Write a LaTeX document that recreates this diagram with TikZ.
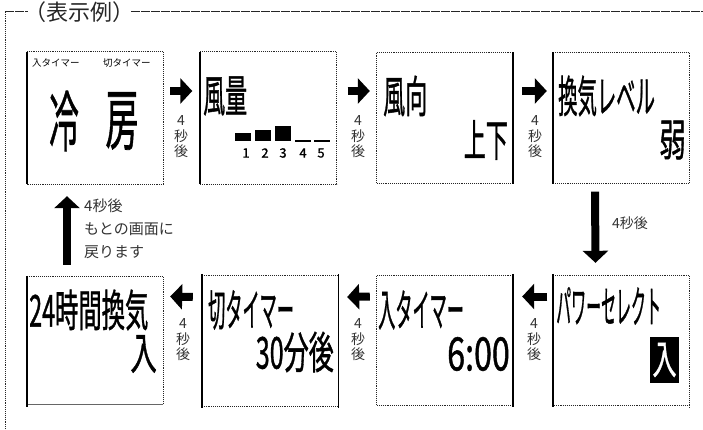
\documentclass[tikz,border=0pt]{standalone}
\usepackage{fontspec}
\usepackage{graphicx}
\usetikzlibrary{arrows.meta}
\newfontfamily\jp{Noto Sans CJK JP}
\newfontfamily\jpbold{Noto Sans CJK JP}[FakeBold=1.2]
\newcommand{\lcd}[3]{{\jpbold\fontsize{#1}{#1}\selectfont\scalebox{#2}[1]{#3}}}
\tikzset{
  dotedge/.style={line width=1pt, dash pattern=on 1pt off 0.9pt, black!85},
  soledge/.style={line width=2pt, black},
  lcdbox/.style={inner sep=0pt, minimum width=136pt},
  blk/.style={line width=8pt, -{Triangle[width=25pt,length=12pt]}},
  vlabel/.style={inner sep=0pt, align=center, font=\jp\fontsize{14}{15.5}\selectfont, text=black!80},
  hlabel/.style={inner sep=0pt, align=left, font=\jp\fontsize{15}{23}\selectfont, text=black!80},
  lcdtxt/.style={inner sep=0pt},
  framedash/.style={line width=1pt, dash pattern=on 9pt off 1pt, black!85},
  framedot/.style={line width=1pt, dash pattern=on 1pt off 0.9pt, black!85},
  bar/.style={fill=black, draw=none},
}
\begin{document}
\begin{tikzpicture}[x=1pt,y=-1pt]
\useasboundingbox (0,0) rectangle (703,430);
% outer frame
\node[inner sep=0pt, font=\jp\fontsize{22}{22}\selectfont, text=black!85] (title) at (79,12) {（表示例）};
\coordinate (fc) at (5,12);
\coordinate (fr) at (703,12);
\coordinate (fb) at (5,430);
\draw[framedash] (fc) -- ([xshift=4pt]title.west |- fc);
\draw[framedash] ([xshift=-3pt]title.east |- fc) -- (fr);
\draw[framedot] (fc) -- (fb);

% boxes
\node[lcdbox, minimum height=132pt] (b1) at (95,118) {};
\node[lcdbox, minimum height=132pt] (b2) at (268.5,118) {};
\node[lcdbox, minimum height=131pt] (b3) at (445,118) {};
\node[lcdbox, minimum height=131pt] (b4) at (621,118) {};
\node[lcdbox, minimum height=127pt] (b5) at (95,340.5) {};
\node[lcdbox, minimum height=130pt] (b6) at (270,341) {};
\node[lcdbox, minimum height=129pt] (b7) at (445,340.5) {};
\node[lcdbox, minimum height=129pt] (b8) at (621.5,340.5) {};

% box edges
\draw[dotedge] (b1.north west) -- (b1.north east) -- (b1.south east) -- (b1.south west);
\draw[soledge] (b1.north west) -- (b1.south west);
\draw[dotedge] (b2.north west) -- (b2.north east) -- (b2.south east) -- (b2.south west);
\draw[soledge] (b2.north west) -- (b2.south west);
\draw[dotedge] (b3.north east) -- (b3.north west) -- (b3.south west) -- (b3.south east);
\draw[soledge] (b3.north east) -- (b3.south east);
\draw[dotedge] (b4.north west) -- (b4.north east) -- (b4.south east) -- (b4.south west);
\draw[soledge] (b4.north west) -- (b4.south west);
\draw[dotedge] (b5.north west) -- (b5.north east) -- (b5.south east);
\draw[line width=1pt, black!60] (b5.south east) -- (b5.south west);
\draw[soledge] ([yshift=1pt]b5.north west) -- ([yshift=-3pt]b5.south west);
\draw[dotedge] (b6.north west) -- (b6.north east);
\draw[dotedge] (b6.south west) -- (b6.south east);
\draw[soledge] ([yshift=2pt]b6.north west) -- ([yshift=-2pt]b6.south west);
\draw[line width=1.2pt] ([yshift=2pt]b6.north east) -- ([yshift=-2pt]b6.south east);
\draw[dotedge] (b7.north east) -- (b7.north west) -- (b7.south west) -- (b7.south east);
\draw[soledge] ([yshift=2pt]b7.north east) -- ([yshift=-2pt]b7.south east);
\draw[dotedge] (b8.north west) -- (b8.north east) -- ([yshift=-3pt]b8.south east);
\draw[dotedge] (b8.south east) -- (b8.south west);
\draw[soledge] ([yshift=2pt]b8.north west) -- ([yshift=-2pt]b8.south west);

% box 1 contents
\node[lcdtxt, anchor=west, font=\jp\fontsize{9.5}{9.5}\selectfont] (t1a) at (32,63) {入タイマー};
\node[lcdtxt, anchor=west, font=\jp\fontsize{9.5}{9.5}\selectfont] (t1b) at (103,63) {切タイマー};
\node[lcdtxt] (t1c) at (64,121) {\lcd{66}{0.45}{冷}};
\node[lcdtxt] (t1d) at (122,121) {\lcd{66}{0.5}{房}};

% box 2 contents
\node[lcdtxt, anchor=west] (t2a) at (203,96) {\lcd{44}{0.5}{風量}};
\path[bar] (235,133) rectangle (251,141);
\path[bar] (255,130) rectangle (271,141);
\path[bar] (275,126) rectangle (291,141);
\path[bar] (295,140.5) rectangle (311,142);
\path[bar] (314,140.5) rectangle (330,142);
\node[lcdtxt, font=\jpbold\fontsize{13}{13}\selectfont] (d1) at (246,153) {1};
\node[lcdtxt, font=\jpbold\fontsize{13}{13}\selectfont] (d2) at (265,153) {2};
\node[lcdtxt, font=\jpbold\fontsize{13}{13}\selectfont] (d3) at (283,153) {3};
\node[lcdtxt, font=\jpbold\fontsize{13}{13}\selectfont] (d4) at (303,153) {4};
\node[lcdtxt, font=\jpbold\fontsize{13}{13}\selectfont] (d5) at (321,153) {5};

% box 3 contents
\node[lcdtxt, anchor=west] (t3a) at (383,96) {\lcd{44}{0.5}{風向}};
\node[lcdtxt, anchor=east] (t3b) at (508,140) {\lcd{44}{0.5}{上下}};

% box 4 contents
\node[lcdtxt, anchor=west] (t4a) at (558,96) {\lcd{44}{0.44}{換気レベル}};
\node[lcdtxt, anchor=east] (t4b) at (686,140) {\lcd{44}{0.6}{弱}};

% box 5 contents
\node[lcdtxt, anchor=west] (t5a) at (29,310) {\lcd{44}{0.53}{24時間換気}};
\node[lcdtxt, anchor=east] (t5b) at (157,354) {\lcd{44}{0.6}{入}};

% box 6 contents
\node[lcdtxt, anchor=west] (t6a) at (208,310) {\lcd{44}{0.39}{切タイマー}};
\node[lcdtxt, anchor=east] (t6b) at (334,352) {\lcd{44}{0.57}{30分後}};

% box 7 contents
\node[lcdtxt, anchor=west] (t7a) at (378,310) {\lcd{44}{0.39}{入タイマー}};
\node[lcdtxt, anchor=east] (t7b) at (510,354) {\lcd{46}{0.7}{6:00}};

% box 8 contents
\node[lcdtxt, anchor=west] (t8a) at (556,306) {\lcd{44}{0.34}{パワーセレクト}};
\node[fill=black, inner sep=0pt, minimum width=29pt, minimum height=46pt] (t8b) at (664.5,360) {};
\node[lcdtxt, text=white] (t8c) at (t8b.center) {\lcd{40}{0.6}{入}};

% arrows
\draw[blk] ([xshift=7pt,yshift=27pt]b1.east) -- ([xshift=-8pt,yshift=27pt]b2.west);
\draw[blk] ([xshift=11pt,yshift=27pt]b2.east) -- ([xshift=-7pt,yshift=27pt]b3.west);
\draw[blk] ([xshift=9pt,yshift=27pt]b3.east) -- ([xshift=-6pt,yshift=27pt]b4.west);
\draw[blk] ([xshift=-26pt,yshift=-8pt]b4.south) -- ([xshift=-26pt,yshift=13pt]b8.north);
\draw[blk] ([xshift=-6pt,yshift=44pt]b8.west) -- ([xshift=9pt,yshift=44pt]b7.east);
\draw[blk] ([xshift=-7pt,yshift=44pt]b7.west) -- ([xshift=9pt,yshift=44pt]b6.east);
\draw[blk] ([xshift=-9pt,yshift=44pt]b6.west) -- ([xshift=7pt,yshift=44pt]b5.east);
\draw[blk] ([xshift=-28pt,yshift=12pt]b5.north) -- ([xshift=-28pt,yshift=-12pt]b1.south);

% labels
\node[vlabel] (l12) at (181,137) {4\\秒\\後};
\node[vlabel] (l23) at (358,137) {4\\秒\\後};
\node[vlabel] (l34) at (535,137) {4\\秒\\後};
\node[vlabel] (l56) at (183,340) {4\\秒\\後};
\node[vlabel] (l67) at (358,340) {4\\秒\\後};
\node[vlabel] (l78) at (534,340) {4\\秒\\後};
\node[hlabel, anchor=west, font=\jp\fontsize{14}{14}\selectfont] (l48) at (612,223) {4秒後};
\node[hlabel, anchor=north west] (l51) at (84,199) {4秒後\\もとの画面に\\戻ります};
\end{tikzpicture}
\end{document}
